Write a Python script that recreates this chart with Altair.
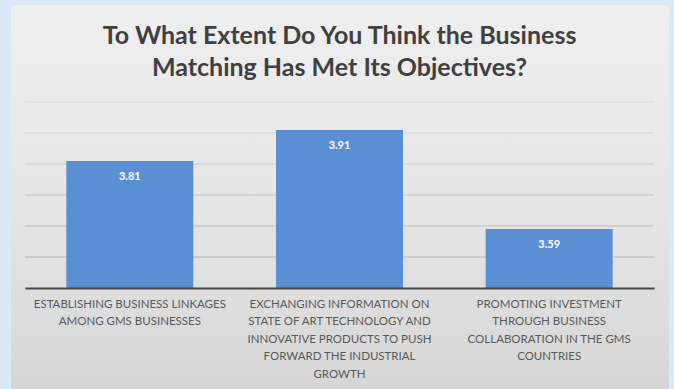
import altair as alt
import pandas as pd

categories = [
    "ESTABLISHING BUSINESS LINKAGES\nAMONG GMS BUSINESSES",
    "EXCHANGING INFORMATION ON\nSTATE OF ART TECHNOLOGY AND\nINNOVATIVE PRODUCTS TO PUSH\nFORWARD THE INDUSTRIAL\nGROWTH",
    "PROMOTING INVESTMENT\nTHROUGH BUSINESS\nCOLLABORATION IN THE GMS\nCOUNTRIES",
]
scores = [3.81, 3.91, 3.59]
value_labels = ["3.81", "3.91", "3.59"]
grid_values = [3.5, 3.6, 3.7, 3.8, 3.9, 4.0]
title_lines = ["To What Extent Do You Think the Business", "Matching Has Met Its Objectives?"]

df = pd.DataFrame({"cat": categories, "score": scores, "label": value_labels})
grid_df = pd.DataFrame({"g": grid_values})

W, H = 629, 186
yscale = alt.Scale(domain=[3.4, 4.0], zero=False, nice=False)

panel = alt.Chart(alt.Data(values=[{}])).mark_rect(
    fill=alt.Gradient(
        gradient="linear", x1=0, y1=0, x2=0, y2=1,
        stops=[alt.GradientStop(color="#efefef", offset=0),
               alt.GradientStop(color="#e6e6e6", offset=0.5),
               alt.GradientStop(color="#d6d6d6", offset=1)],
    )
).encode(x=alt.value(-14), x2=alt.value(644), y=alt.value(-97), y2=alt.value(287))

grid = alt.Chart(grid_df).mark_rule(color="#b4b4b4", strokeWidth=1).encode(
    y=alt.Y("g:Q", scale=yscale, axis=None),
    opacity=alt.Opacity("g:Q", scale=alt.Scale(domain=[3.5, 4.0], range=[1.0, 0.25]), legend=None),
    x=alt.value(0), x2=alt.value(W))

xenc = alt.X("cat:N", sort=None, title=None,
             scale=alt.Scale(paddingInner=0.395, paddingOuter=0.1975),
             axis=alt.Axis(labelAngle=0, labelExpr="split(datum.label, '\\n')",
                           labelFont="Lato", labelFontSize=11.5, labelColor="#595959",
                           labelLineHeight=17.5, labelPadding=10, labelLimit=250,
                           ticks=False, domainColor="#444444", domainWidth=2, zindex=2))

bars = alt.Chart(df).mark_bar(color="#5b8fd3", size=127, clip=True).encode(
    x=xenc, y=alt.Y("score:Q", scale=yscale, axis=None))
text = alt.Chart(df).mark_text(color="white", font="Lato", fontWeight="bold", fontSize=11,
                               baseline="middle", dy=16).encode(
    x=alt.X("cat:N", sort=None), y=alt.Y("score:Q", scale=yscale, axis=None), text="label:N")

chart = alt.layer(panel, grid, bars, text).properties(
    width=W, height=H,
    title=alt.TitleParams(text=title_lines, font="Lato", fontSize=25, fontWeight="bold",
                          color="#404040", lineHeight=32, anchor="middle", offset=0, dy=76,
                          frame="group", zindex=2),
    background="#dbe9f6",
    padding={"left": 25, "top": 102, "right": 20, "bottom": 101},
    autosize=alt.AutoSizeParams(type="none"),
).configure_view(stroke=None)

chart.save("out.html", embed_options={"renderer": "svg", "actions": False})
